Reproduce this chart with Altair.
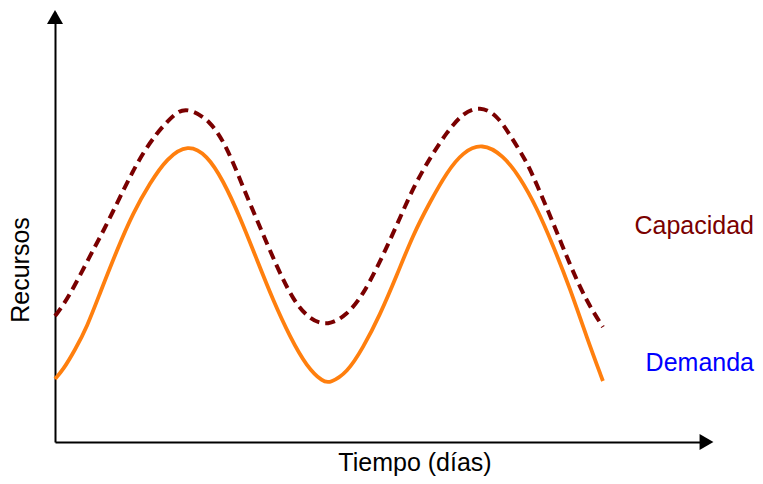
import altair as alt
import pandas as pd

# Demanda (solid orange)
dias_dem = [0.000, 0.121, 0.303, 0.485, 0.682, 0.939, 1.182, 1.439, 1.697, 2.015,
            2.303, 2.545, 2.803, 3.061, 3.303, 3.561, 3.818, 4.061, 4.167, 4.424,
            4.667, 4.924, 5.182, 5.424, 5.682, 5.939, 6.182, 6.470, 6.788, 7.045,
            7.303, 7.545, 7.803, 8.061, 8.303]
demanda = [1.465, 1.674, 2.140, 2.674, 3.465, 4.465, 5.326, 6.023, 6.605, 6.930,
           6.674, 6.093, 5.233, 4.233, 3.302, 2.442, 1.744, 1.395, 1.372, 1.605,
           2.186, 2.953, 3.884, 4.814, 5.581, 6.279, 6.744, 6.953, 6.674, 6.163,
           5.442, 4.581, 3.581, 2.419, 1.419]

# Capacidad (dashed dark red)
dias_cap = [0.000, 0.197, 0.576, 0.727, 1.015, 1.167, 1.333, 1.545, 1.697, 1.848,
            2.015, 2.348, 2.606, 2.848, 3.106, 3.364, 3.606, 3.864, 4.136, 4.424,
            4.667, 4.924, 5.182, 5.424, 5.682, 5.939, 6.182, 6.439, 6.697, 6.894,
            7.152, 7.303, 7.545, 7.803, 8.061, 8.303]
capacidad = [2.930, 3.326, 4.465, 4.884, 5.791, 6.256, 6.721, 7.186, 7.442, 7.674,
             7.767, 7.488, 6.860, 5.930, 5.000, 4.070, 3.302, 2.837, 2.698, 2.953,
             3.419, 4.186, 5.047, 5.907, 6.605, 7.209, 7.651, 7.814, 7.605, 7.140,
             6.512, 5.977, 5.116, 4.116, 3.256, 2.674]

etiquetas = ["Capacidad", "Demanda"]
titulo_x = "Tiempo (días)"
titulo_y = "Recursos"

FONT = "Liberation Sans"

df_dem = pd.DataFrame({"dia": dias_dem, "valor": demanda})
df_cap = pd.DataFrame({"dia": dias_cap, "valor": capacidad})
one = pd.DataFrame({"k": [0]})

xscale = alt.Scale(domain=[0, 9.85], nice=False, zero=False)
yscale = alt.Scale(domain=[0, 10], nice=False, zero=False)
axis_common = dict(title=None, labels=False, ticks=False, grid=False,
                   domainColor="black", domainWidth=2)

dem = alt.Chart(df_dem).mark_line(
    interpolate="basis", color="#ff7f0e", strokeWidth=3.8
).encode(
    x=alt.X("dia:Q", scale=xscale, axis=alt.Axis(**axis_common)),
    y=alt.Y("valor:Q", scale=yscale, axis=alt.Axis(**axis_common)),
)

cap = alt.Chart(df_cap).mark_line(
    interpolate="basis", color="#7a0000", strokeWidth=4, strokeDash=[10, 6]
).encode(
    x=alt.X("dia:Q", scale=xscale),
    y=alt.Y("valor:Q", scale=yscale),
)

arrow_up = alt.Chart(one).mark_point(
    shape="triangle-up", filled=True, size=256, color="black", opacity=1
).encode(x=alt.value(0), y=alt.value(5))

arrow_right = alt.Chart(one).mark_point(
    shape="triangle-right", filled=True, size=256, color="black", opacity=1
).encode(x=alt.value(651.5), y=alt.value(430))

txt_cap = alt.Chart(one).mark_text(
    font=FONT, fontSize=25, color="#7a0000", align="right", baseline="alphabetic"
).encode(x=alt.value(699), y=alt.value(222), text=alt.value(etiquetas[0]))

txt_dem = alt.Chart(one).mark_text(
    font=FONT, fontSize=25, color="#0000ff", align="right", baseline="alphabetic"
).encode(x=alt.value(699), y=alt.value(359), text=alt.value(etiquetas[1]))

txt_x = alt.Chart(one).mark_text(
    font=FONT, fontSize=25, color="black", align="center", baseline="alphabetic"
).encode(x=alt.value(360), y=alt.value(459), text=alt.value(titulo_x))

txt_y = alt.Chart(one).mark_text(
    font=FONT, fontSize=25, color="black", align="center", baseline="alphabetic", angle=270
).encode(x=alt.value(-26), y=alt.value(258), text=alt.value(titulo_y))

chart = alt.layer(
    dem, cap, arrow_up, arrow_right, txt_cap, txt_dem, txt_x, txt_y
).properties(
    width=650, height=430,
    padding={"left": 47, "top": 4, "right": 50, "bottom": 34},
    autosize=alt.AutoSizeParams(type="none"),
    background="white",
).configure_view(stroke=None)

chart.save("out.html", embed_options={"renderer": "svg", "actions": False})
